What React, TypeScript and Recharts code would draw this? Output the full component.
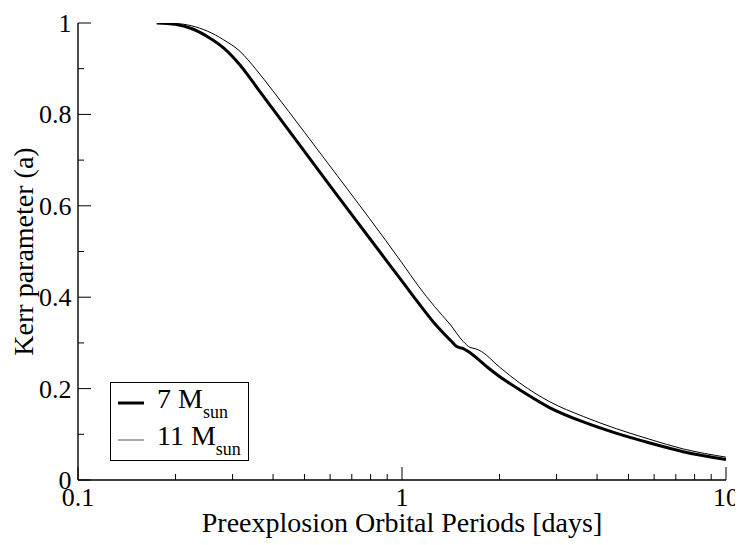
import { LineChart, Line, XAxis, YAxis } from 'recharts';

const FONT = "'Liberation Serif'";

// 7 Msun (thick curve)
const periods7 = [0.175, 0.1995, 0.2239, 0.2512, 0.2818, 0.3162, 0.3548, 0.3981, 0.5012, 0.631, 0.7943, 1.0, 1.122, 1.259, 1.423, 1.475, 1.54, 1.602, 1.826, 1.995, 2.312, 2.862, 3.627, 4.599, 5.821, 7.379, 10.0];
const kerr7 = [1.0, 0.997, 0.988, 0.97, 0.945, 0.908, 0.861, 0.813, 0.718, 0.623, 0.529, 0.435, 0.388, 0.343, 0.303, 0.292, 0.288, 0.281, 0.248, 0.227, 0.197, 0.158, 0.127, 0.102, 0.081, 0.062, 0.045];

// 11 Msun (thin curve)
const periods11 = [0.175, 0.1995, 0.2239, 0.2512, 0.2818, 0.3162, 0.3548, 0.3981, 0.5012, 0.631, 0.7943, 1.0, 1.122, 1.259, 1.413, 1.545, 1.622, 1.69, 1.76, 2.0, 2.312, 2.862, 3.627, 4.599, 5.821, 7.379, 10.0];
const kerr11 = [1.0, 0.999, 0.994, 0.982, 0.963, 0.938, 0.898, 0.853, 0.76, 0.666, 0.572, 0.475, 0.425, 0.38, 0.339, 0.303, 0.29, 0.287, 0.281, 0.247, 0.212, 0.171, 0.139, 0.112, 0.089, 0.068, 0.05];

const xTicks = [0.1, 0.2, 0.3, 0.4, 0.5, 0.6, 0.7, 0.8, 0.9, 1, 2, 3, 4, 5, 6, 7, 8, 9, 10];
const xMajor = [0.1, 1, 10];
const yTicks = [0, 0.1, 0.2, 0.3, 0.4, 0.5, 0.6, 0.7, 0.8, 0.9, 1];
const yMajor = [0, 0.2, 0.4, 0.6, 0.8, 1];

const series7 = periods7.map((p, i) => ({ p, a: kerr7[i] }));
const series11 = periods11.map((p, i) => ({ p, a: kerr11[i] }));

function BottomTick({ x, y, payload }: any) {
  const major = xMajor.includes(payload.value);
  return (
    <g>
      <line x1={x} x2={x} y1={y} y2={y - (major ? 13 : 6)} stroke="#000" />
      {major && (
        <text x={x} y={y + 26} textAnchor="middle" fill="#000" style={{ fontFamily: FONT, fontSize: 26 }}>
          {String(payload.value)}
        </text>
      )}
    </g>
  );
}

function TopTick({ x, y, payload }: any) {
  const major = xMajor.includes(payload.value);
  return <line x1={x} x2={x} y1={y} y2={y + (major ? 13 : 6)} stroke="#000" />;
}

function LeftTick({ x, y, payload }: any) {
  const major = yMajor.includes(payload.value);
  return (
    <g>
      <line x1={x} x2={x + (major ? 13 : 6)} y1={y} y2={y} stroke="#000" />
      {major && (
        <text x={x - 6.5} y={y + 9} textAnchor="end" fill="#000" style={{ fontFamily: FONT, fontSize: 26 }}>
          {String(payload.value)}
        </text>
      )}
    </g>
  );
}

function RightTick({ x, y, payload }: any) {
  const major = yMajor.includes(payload.value);
  return <line x1={x} x2={x - (major ? 13 : 6)} y1={y} y2={y} stroke="#000" />;
}

// legend box, placed over the lower-left corner of the plot
function LegendBox() {
  const txt = { fontFamily: FONT, fontSize: 28 };
  return (
    <svg width={140} height={80} style={{ position: 'absolute', left: 102, top: 374, display: 'block' }}>
      <rect x={0.5} y={0.5} width={138} height={78} fill="#fff" stroke="#000" />
      <line x1={8} x2={34} y1={21} y2={21} stroke="#000" strokeWidth={3} />
      <text x={47} y={26} fill="#000" style={txt}>
        7 M<tspan dy={10} style={{ fontSize: 18 }}>sun</tspan>
      </text>
      <line x1={8} x2={34} y1={58} y2={58} stroke="#555" strokeWidth={1} />
      <text x={47} y={63} fill="#000" style={txt}>
        11 M<tspan dy={10} style={{ fontSize: 18 }}>sun</tspan>
      </text>
    </svg>
  );
}

export default function App() {
  return (
    <div style={{ position: 'relative', width: 735, height: 537, background: '#fff' }}>
      <LineChart width={735} height={537} margin={{ top: 15, right: 17, bottom: 0, left: 0 }}>
        <XAxis
          xAxisId="b"
          dataKey="p"
          type="number"
          scale="log"
          domain={[0.1, 10]}
          allowDataOverflow
          ticks={xTicks}
          interval={0}
          height={65}
          tickSize={0}
          tickMargin={0}
          tickLine={false}
          tick={<BottomTick />}
          axisLine={{ stroke: '#000', strokeWidth: 1.4 }}
          label={{
            value: 'Preexplosion Orbital Periods [days]',
            position: 'insideBottom',
            offset: 13,
            style: { fontFamily: FONT, fontSize: 28, fill: '#000' },
          }}
        />
        <XAxis
          xAxisId="t"
          orientation="top"
          type="number"
          scale="log"
          domain={[0.1, 10]}
          allowDataOverflow
          ticks={xTicks}
          interval={0}
          height={0}
          tickSize={0}
          tickMargin={0}
          tickLine={false}
          tick={<TopTick />}
          axisLine={{ stroke: '#000', strokeWidth: 1.4 }}
        />
        <YAxis
          yAxisId="l"
          type="number"
          domain={[0, 1]}
          allowDataOverflow
          ticks={yTicks}
          interval={0}
          width={70}
          tickSize={0}
          tickMargin={0}
          tickLine={false}
          tick={<LeftTick />}
          axisLine={{ stroke: '#000', strokeWidth: 1.4 }}
          label={{
            value: 'Kerr parameter (a)',
            angle: -90,
            position: 'insideLeft',
            offset: 15,
            style: { fontFamily: FONT, fontSize: 28, fill: '#000', textAnchor: 'middle' },
          }}
        />
        <YAxis
          yAxisId="r"
          orientation="right"
          type="number"
          domain={[0, 1]}
          allowDataOverflow
          ticks={yTicks}
          interval={0}
          width={0}
          tickSize={0}
          tickMargin={0}
          tickLine={false}
          tick={<RightTick />}
          axisLine={{ stroke: '#000', strokeWidth: 1.4 }}
        />
        <Line
          data={series7}
          xAxisId="b"
          yAxisId="l"
          dataKey="a"
          type="monotone"
          dot={false}
          stroke="#000"
          strokeWidth={3}
          isAnimationActive={false}
        />
        <Line
          data={series11}
          xAxisId="b"
          yAxisId="l"
          dataKey="a"
          type="monotone"
          dot={false}
          stroke="#000"
          strokeWidth={1}
          isAnimationActive={false}
        />
      </LineChart>
      <LegendBox />
    </div>
  );
}
